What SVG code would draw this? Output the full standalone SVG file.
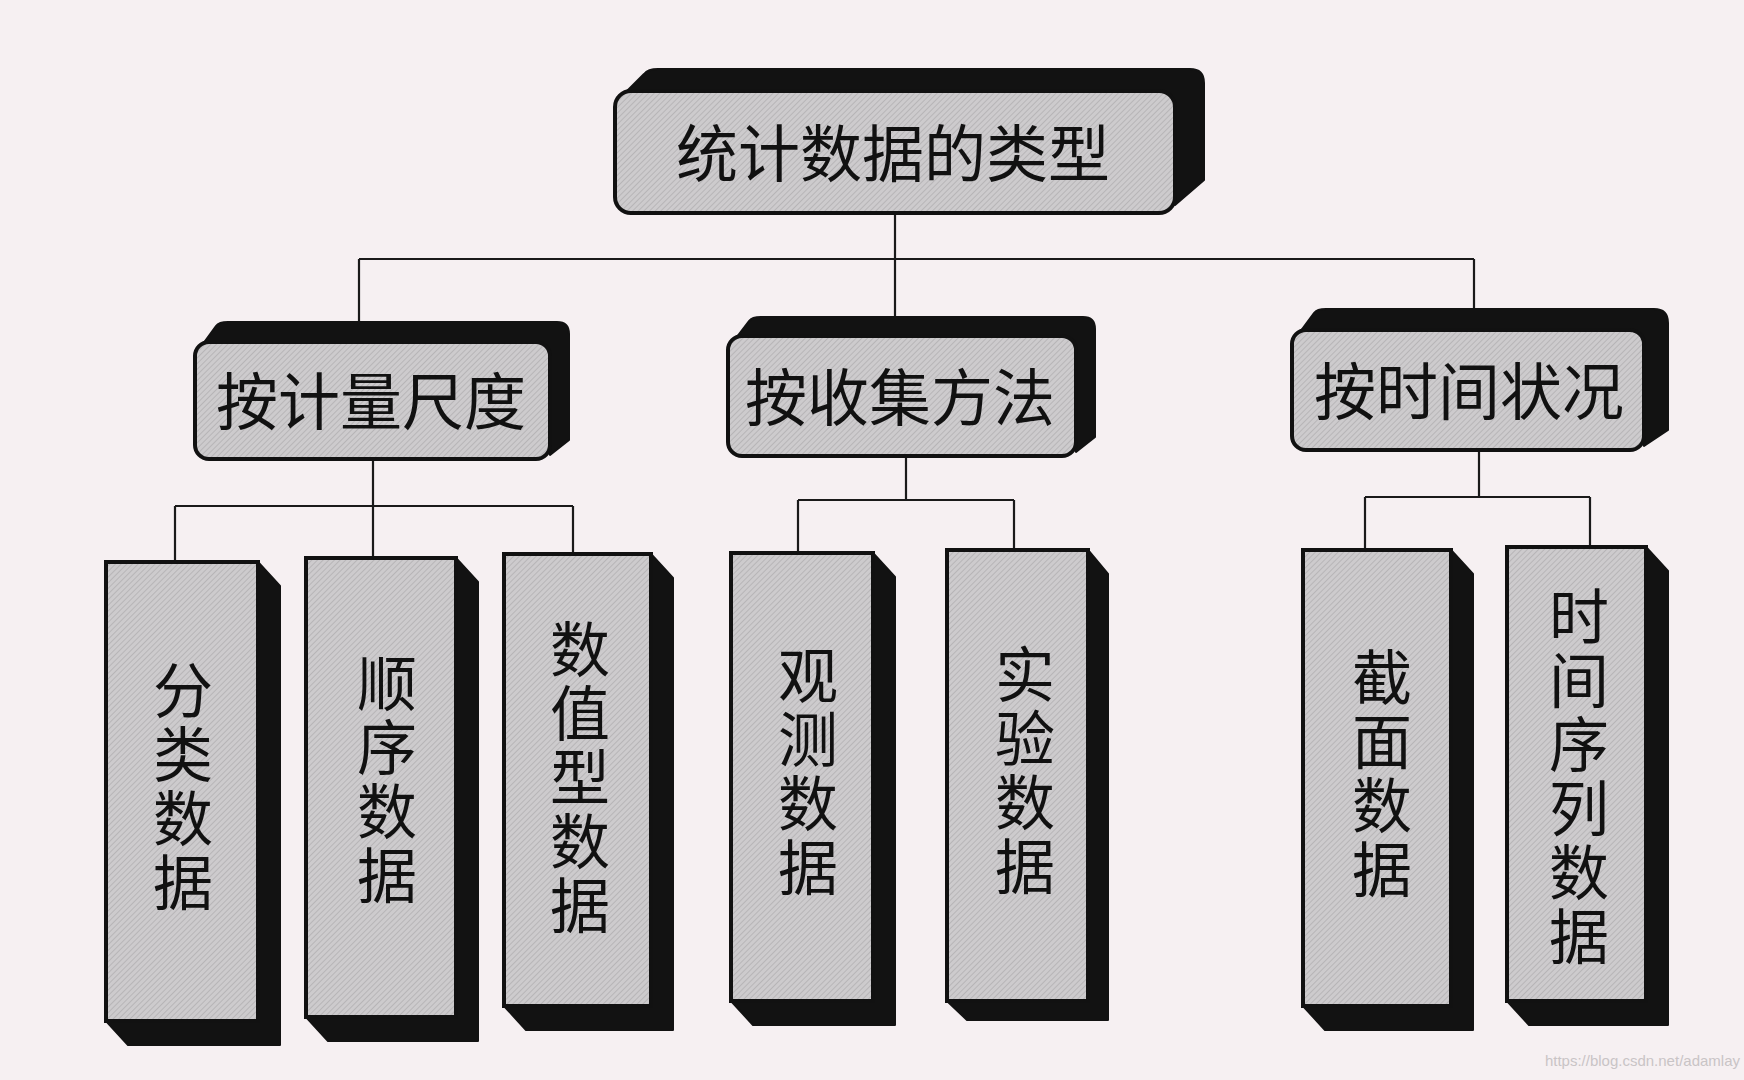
<svg xmlns="http://www.w3.org/2000/svg" width="1744" height="1080" viewBox="0 0 1744 1080">
<defs>
<pattern id="tex" width="4" height="4" patternUnits="userSpaceOnUse" patternTransform="rotate(45)">
<rect width="4" height="4" fill="#cdcbcd"/>
<line x1="0" y1="0" x2="0" y2="4" stroke="#a9a7a9" stroke-width="1.2"/>
</pattern>
<style>
.face{fill:url(#tex);stroke:#111;stroke-width:4}
.back{fill:#121212;stroke:#121212;stroke-width:2;stroke-linejoin:round}
.ln{stroke:#1a1a1a;stroke-width:2.2;fill:none}
.t{font-family:"Noto Sans CJK SC","Noto Sans CJK JP",sans-serif;fill:#111;text-anchor:middle;dominant-baseline:central}
.top{font-size:62px}
.mid{font-size:62px}
.bot{font-size:60px;writing-mode:vertical-rl;letter-spacing:4px}
.wm{font-family:"Liberation Sans",Arial,sans-serif;font-size:15px;fill:#c9c4c6}
</style>
</defs>
<rect width="1744" height="1080" fill="#f6f0f2"/>

<g id="connectors">
<path class="ln" d="M895 213V259M359 259H1474M359 259V322M895 259V317M1474 259V309"/>
<path class="ln" d="M373 459V506M175 506H573M175 506V562M373 506V558M573 506V554"/>
<path class="ln" d="M906 456V500M798 500H1014M798 500V553M1014 500V550"/>
<path class="ln" d="M1479 450V497M1365 497H1590M1365 497V550M1590 497V547"/>
</g>

<g id="root">
<path class="back" d="M622 96 L644 74 Q648 69 658 69 H1190 Q1204 69 1204 83 V180 L1175 205 V120 Q1175 91 1150 91 H640 Z"/>
<rect class="face" x="615" y="91" width="560" height="122" rx="16"/>
<text class="t top" x="893" y="150">统计数据的类型</text>
</g>

<g id="n-scale">
<path class="back" d="M200 348 L216 326 Q219 322 228 322 H557 Q569 322 569 334 V440 L550 455 V360 Q550 342 532 342 H214 Z"/>
<rect class="face" x="195" y="342" width="355" height="117" rx="14"/>
<text class="t mid" x="371" y="398">按计量尺度</text>
</g>

<g id="n-method">
<path class="back" d="M733 342 L749 321 Q752 317 761 317 H1083 Q1095 317 1095 329 V437 L1076 452 V354 Q1076 336 1058 336 H747 Z"/>
<rect class="face" x="728" y="336" width="348" height="120" rx="14"/>
<text class="t mid" x="900" y="394">按收集方法</text>
</g>

<g id="n-time">
<path class="back" d="M1297 336 L1314 313 Q1317 309 1326 309 H1654 Q1668 309 1668 323 V430 L1644 446 V348 Q1644 330 1626 330 H1311 Z"/>
<rect class="face" x="1292" y="330" width="352" height="120" rx="14"/>
<text class="t mid" x="1469" y="388">按时间状况</text>
</g>

<g id="b1">
<polygon class="back" points="258,562 280,586 280,1045 128,1045 106,1021 258,1021"/>
<rect class="face" x="106" y="562" width="152" height="459"/>
<text class="t bot" x="183" y="788">分类数据</text>
</g>

<g id="b2">
<polygon class="back" points="456,558 478,582 478,1041 328,1041 306,1017 456,1017"/>
<rect class="face" x="306" y="558" width="150" height="459"/>
<text class="t bot" x="387" y="781">顺序数据</text>
</g>

<g id="b3">
<polygon class="back" points="651,554 673,578 673,1030 526,1030 504,1006 651,1006"/>
<rect class="face" x="504" y="554" width="147" height="452"/>
<text class="t bot" x="580" y="779">数值型数据</text>
</g>

<g id="b4">
<polygon class="back" points="873,553 895,577 895,1025 753,1025 731,1001 873,1001"/>
<rect class="face" x="731" y="553" width="142" height="448"/>
<text class="t bot" x="808" y="773">观测数据</text>
</g>

<g id="b5">
<polygon class="back" points="1088,550 1108,574 1108,1020 967,1020 947,1001 1088,1001"/>
<rect class="face" x="947" y="550" width="141" height="451"/>
<text class="t bot" x="1025" y="772">实验数据</text>
</g>

<g id="b6">
<polygon class="back" points="1451,550 1473,574 1473,1030 1325,1030 1303,1006 1451,1006"/>
<rect class="face" x="1303" y="550" width="148" height="456"/>
<text class="t bot" x="1382" y="775">截面数据</text>
</g>

<g id="b7">
<polygon class="back" points="1646,547 1668,571 1668,1025 1529,1025 1507,1001 1646,1001"/>
<rect class="face" x="1507" y="547" width="139" height="454"/>
<text class="t bot" x="1579" y="778">时间序列数据</text>
</g>

<text class="wm" x="1740" y="1066" text-anchor="end">https://blog.csdn.net/adamlay</text>
</svg>
